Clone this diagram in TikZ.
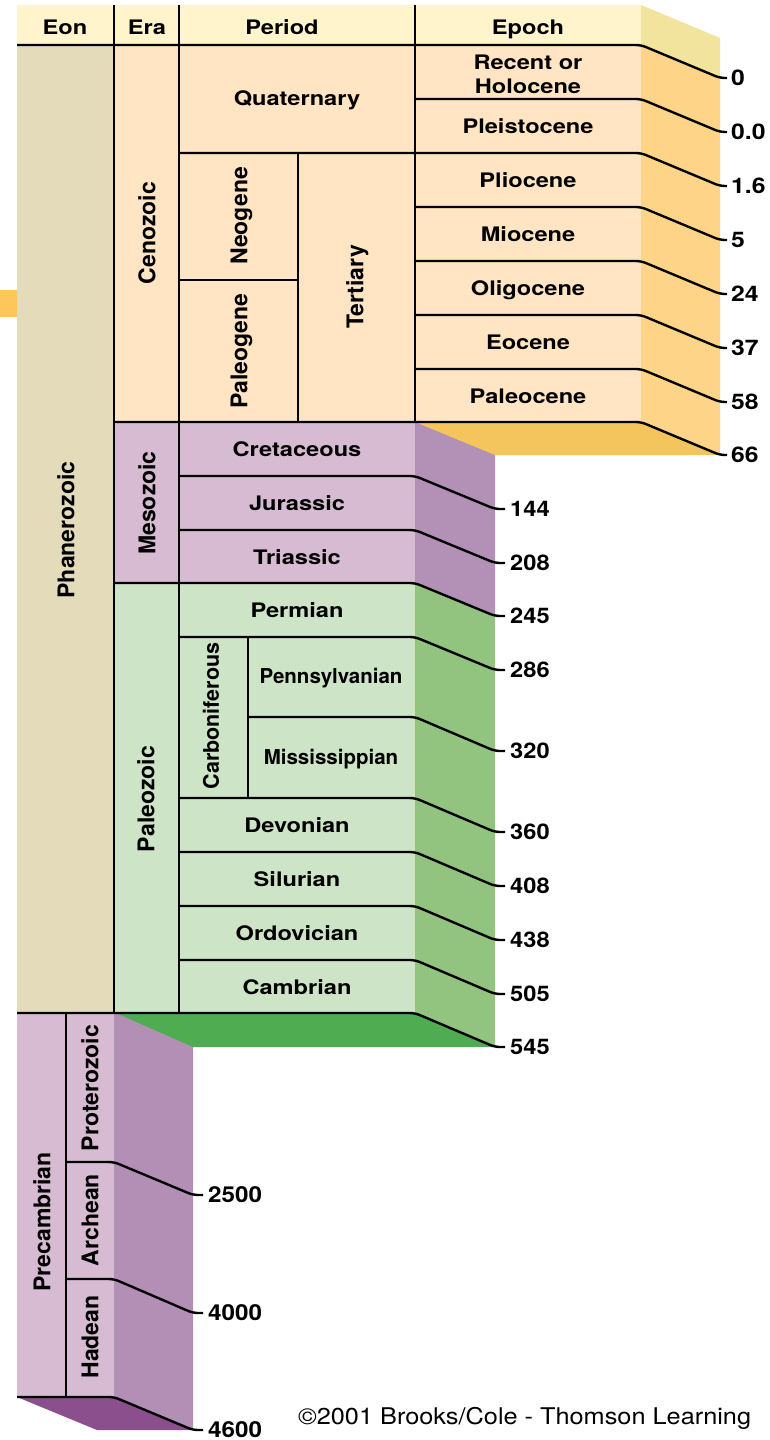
\documentclass[tikz,border=0pt]{standalone}
\usepackage{fontspec}
\newfontfamily\lblfont{TeX Gyre Heros}[FakeStretch=1.18]
\newfontfamily\rotfont{TeX Gyre Heros}
\newfontfamily\cenfont{TeX Gyre Heros}[FakeStretch=1.15]
\newfontfamily\numfont{TeX Gyre Heros}[FakeStretch=1.1]
\definecolor{hdr}{HTML}{FFF4CC}
\definecolor{hdrside}{HTML}{F2E49C}
\definecolor{ceno}{HTML}{FFE5C3}
\definecolor{cenoside}{HTML}{FED488}
\definecolor{cenobot}{HTML}{F3C55C}
\definecolor{phan}{HTML}{E4DBBB}
\definecolor{meso}{HTML}{D6BBD3}
\definecolor{mesoside}{HTML}{B391B6}
\definecolor{paleo}{HTML}{CDE5C6}
\definecolor{paleoside}{HTML}{93C47F}
\definecolor{paleobot}{HTML}{4FAC50}
\definecolor{precside}{HTML}{B38FB5}
\definecolor{precbot}{HTML}{8A4F8C}
\definecolor{stub}{HTML}{FFC65A}
\begin{document}
\begin{tikzpicture}[x=1pt,y=-1pt,
  ln/.style={line width=2.4pt, line join=round, rounded corners=5pt},
  lab/.style={inner sep=0pt, font=\fontsize{20}{24}\lblfont\bfseries, text height=14.4pt, text depth=0pt},
  labn/.style={inner sep=0pt, font=\fontsize{20.5}{24}\rotfont\bfseries, text height=14.7pt, text depth=0pt},
  rot/.style={inner sep=0pt, rotate=90, font=\fontsize{23}{27}\rotfont\bfseries, text height=16.5pt, text depth=0pt},
  num/.style={inner xsep=5pt, inner ysep=0pt, anchor=west, font=\fontsize{21.5}{25}\numfont\bfseries, text height=15.4pt, text depth=0pt},
  cnum/.style={num, inner xsep=4pt, font=\fontsize{21.5}{25}\cenfont\bfseries, text height=15.5pt}]
\useasboundingbox (0,0) rectangle (769,1440);
\fill[white] (0,0) rectangle (769,1440);
% ---- fills
\fill[stub] (0,290) rectangle (17,317);
\fill[hdr] (17,5) rectangle (641,45);
\fill[hdrside] (641,5) -- (720,38) -- (720,78) -- (641,45) -- cycle;
\fill[phan] (17,45) rectangle (114,1013);
\fill[ceno] (114,45) rectangle (641,422);
\fill[cenoside] (641,45) -- (720,78) -- (720,455) -- (641,422) -- cycle;
\fill[meso] (114,422) rectangle (415,583);
\fill[mesoside] (415,422) -- (495,422) -- (495,616) -- (415,583) -- cycle;
\fill[cenobot] (415,422) -- (641,422) -- (720,455) -- (495,455) -- cycle;
\fill[paleo] (114,583) rectangle (415,1013);
\fill[paleoside] (415,583) -- (495,616) -- (495,1047) -- (415,1013) -- cycle;
\fill[meso] (17,1013) rectangle (114,1397);
\fill[precside] (114,1013) -- (193,1013) -- (193,1430) -- (114,1397) -- cycle;
\fill[paleobot] (116,1013) -- (415,1013) -- (495,1047) -- (193,1047) -- cycle;
\fill[precbot] (17,1397) -- (114,1397) -- (193,1430) -- (97,1430) -- cycle;
% ---- vertical divider lines
\draw[ln] (114,5) -- (114,1013);
\draw[ln] (179,5) -- (179,1013);
\draw[ln] (415,5) -- (415,422);
\draw[ln] (298,153) -- (298,422);
\draw[ln] (248,637) -- (248,798);
\draw[ln] (66,1013) -- (66,1397);
\draw[ln] (179,280) -- (298,280);
% ---- header labels
\node[lab] (heon) at (65,27) {Eon};
\node[lab] (hera) at (147,27) {Era};
\node[lab] (hper) at (282,27) {Period};
\node[lab] (hepo) at (528,27) {Epoch};
% ---- Cenozoic labels
\node[lab] (quat) at (297,98) {Quaternary};
\node[inner sep=0pt, font=\fontsize{20}{24}\lblfont\bfseries, align=center] (holo) at (528,74) {Recent or\\Holocene};
\node[lab] (plei) at (528,126) {Pleistocene};
\node[lab] (plio) at (528,180) {Pliocene};
\node[lab] (mioc) at (528,234) {Miocene};
\node[lab] (olig) at (528,288) {Oligocene};
\node[lab] (eoce) at (528,342) {Eocene};
\node[lab] (pale) at (528,396) {Paleocene};
\node[rot] (ceno) at (147,233) {Cenozoic};
\node[rot] (neog) at (239,216) {Neogene};
\node[rot] (paleog) at (239,351) {Paleogene};
\node[rot] (tert) at (355,287) {Tertiary};
% ---- Mesozoic / Paleozoic labels
\node[lab] (cret) at (297,449) {Cretaceous};
\node[lab] (jura) at (297,503) {Jurassic};
\node[lab] (tria) at (297,557) {Triassic};
\node[rot] (meso) at (147,503) {Mesozoic};
\node[lab] (perm) at (297,610) {Permian};
\node[labn] (penn) at (331,676) {Pennsylvanian};
\node[labn] (miss) at (331,757) {Mississippian};
\node[rot, font=\fontsize{21.5}{25}\rotfont\bfseries, text height=15.5pt] (carb) at (211,716) {Carboniferous};
\node[lab] (devo) at (297,825) {Devonian};
\node[lab] (silu) at (297,879) {Silurian};
\node[lab] (ordo) at (297,933) {Ordovician};
\node[lab] (camb) at (297,987) {Cambrian};
\node[rot] (paleoz) at (146,799) {Paleozoic};
\node[rot] (phan) at (66,530) {Phanerozoic};
% ---- Precambrian labels
\node[rot] (prec) at (42,1222) {Precambrian};
\node[rot] (prot) at (90,1088) {Proterozoic};
\node[rot] (arch) at (90,1220) {Archean};
\node[rot] (hade) at (90,1337) {Hadean};
% ---- age labels and slanted connectors (Cenozoic)
\node[cnum] (a0) at (727,78) {0};
\node[cnum] (a00) at (727,132) {0.0};
\node[cnum] (a16) at (727,186) {1.6};
\node[cnum] (a5) at (727,240) {5};
\node[cnum] (a24) at (727,294) {24};
\node[cnum] (a37) at (727,348) {37};
\node[cnum] (a58) at (727,402) {58};
\node[cnum] (a66) at (727,455) {66};
\draw[ln] (17,45) -- (641,45) -- (720,78) -- (a0.west);
\draw[ln] (415,99) -- (641,99) -- (720,132) -- (a00.west);
\draw[ln] (179,153) -- (641,153) -- (720,186) -- (a16.west);
\draw[ln] (415,207) -- (641,207) -- (720,240) -- (a5.west);
\draw[ln] (415,261) -- (641,261) -- (720,294) -- (a24.west);
\draw[ln] (415,315) -- (641,315) -- (720,348) -- (a37.west);
\draw[ln] (415,369) -- (641,369) -- (720,402) -- (a58.west);
\draw[ln] (114,422) -- (641,422) -- (720,455) -- (a66.west);
% ---- Mesozoic / Paleozoic
\node[num] (a144) at (505,509) {144};
\node[num] (a208) at (505,563) {208};
\node[num] (a245) at (505,616) {245};
\node[num] (a286) at (505,670) {286};
\node[num] (a320) at (505,751) {320};
\node[num] (a360) at (505,832) {360};
\node[num] (a408) at (505,886) {408};
\node[num] (a438) at (505,940) {438};
\node[num] (a505) at (505,994) {505};
\node[num] (a545) at (505,1047) {545};
\draw[ln] (179,476) -- (415,476) -- (495,509) -- (a144.west);
\draw[ln] (179,530) -- (415,530) -- (495,563) -- (a208.west);
\draw[ln] (114,583) -- (415,583) -- (495,616) -- (a245.west);
\draw[ln] (179,637) -- (415,637) -- (495,670) -- (a286.west);
\draw[ln] (248,717) -- (415,717) -- (495,751) -- (a320.west);
\draw[ln] (179,798) -- (415,798) -- (495,832) -- (a360.west);
\draw[ln] (179,852) -- (415,852) -- (495,886) -- (a408.west);
\draw[ln] (179,906) -- (415,906) -- (495,940) -- (a438.west);
\draw[ln] (179,960) -- (415,960) -- (495,994) -- (a505.west);
\draw[ln] (17,1013) -- (415,1013) -- (495,1047) -- (a545.west);
% ---- Precambrian
\node[num, font=\fontsize{22}{26}\numfont\bfseries, text height=15.8pt] (a2500) at (203,1195) {2500};
\node[num, font=\fontsize{22}{26}\numfont\bfseries, text height=15.8pt] (a4000) at (203,1313) {4000};
\node[num, font=\fontsize{22}{26}\numfont\bfseries, text height=15.8pt] (a4600) at (203,1430) {4600};
\draw[ln] (66,1162) -- (114,1162) -- (193,1195) -- (a2500.west);
\draw[ln] (66,1279) -- (114,1279) -- (193,1313) -- (a4000.west);
\draw[ln] (17,1397) -- (114,1397) -- (193,1430) -- (a4600.west);
% ---- credit
\node[inner sep=0pt, anchor=base west, font=\fontsize{23}{27}\numfont] (credit) at (298,1424) {©2001 Brooks/Cole - Thomson Learning};
\end{tikzpicture}
\end{document}
